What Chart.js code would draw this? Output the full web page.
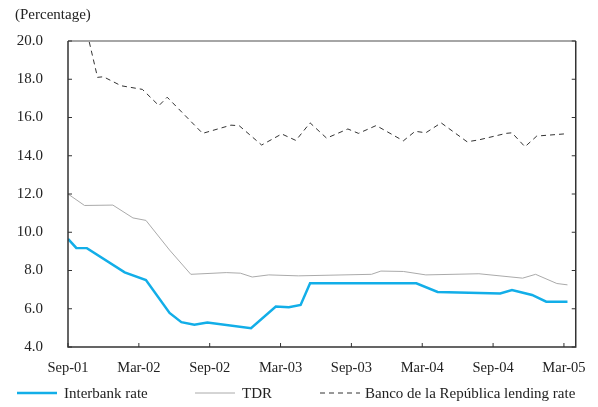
<!DOCTYPE html>
<html>
<head>
<meta charset="utf-8">
<script src="https://cdn.jsdelivr.net/npm/chart.js@4"></script>
<style>
  html, body { margin: 0; padding: 0; background: #fff; }
</style>
</head>
<body>
<canvas id="rates" width="598" height="407"></canvas>
<script>
// months since Sep-01, value in %
const interbankX = [0, 0.7, 1.6, 4.8, 6.6, 8.6, 9.6, 10.7, 11.8, 15.5, 17.6, 18.7, 19.7, 20.5, 29.5, 31.3, 36.6, 37.6, 39.3, 40.5, 42.3];
const interbankY = [9.65, 9.18, 9.17, 7.9, 7.5, 5.78, 5.3, 5.17, 5.28, 4.98, 6.12, 6.08, 6.2, 7.33, 7.33, 6.88, 6.8, 6.98, 6.72, 6.37, 6.37];

const tdrX = [0, 1.4, 3.8, 5.5, 6.6, 8.6, 10.4, 13.4, 14.6, 15.6, 17, 19.5, 25.7, 26.5, 28.4, 30.3, 34.8, 38.5, 39.6, 41.4, 42.3];
const tdrY = [12.0, 11.4, 11.42, 10.75, 10.62, 9.07, 7.8, 7.89, 7.86, 7.66, 7.77, 7.72, 7.8, 7.97, 7.95, 7.77, 7.83, 7.6, 7.8, 7.32, 7.25];

const lendingX = [1.8, 2.5, 3, 4.5, 6.3, 7.7, 8.4, 11.4, 13.8, 14.5, 16.4, 18.1, 19.3, 20.5, 21.9, 23.7, 24.6, 26.1, 28.4, 29.4, 30.3, 31.6, 33.8, 34.8, 37.1, 37.6, 38.7, 39.7, 42];
const lendingY = [19.95, 18.1, 18.13, 17.66, 17.47, 16.62, 17.06, 15.17, 15.6, 15.57, 14.56, 15.14, 14.8, 15.72, 14.92, 15.4, 15.17, 15.58, 14.78, 15.28, 15.2, 15.72, 14.73, 14.83, 15.17, 15.2, 14.47, 15.03, 15.14];

const xTickVals = [0, 6, 12, 18, 24, 30, 36, 42];
const xTickLabels = ['Sep-01', 'Mar-02', 'Sep-02', 'Mar-03', 'Sep-03', 'Mar-04', 'Sep-04', 'Mar-05'];
const yTickVals = [4, 6, 8, 10, 12, 14, 16, 18, 20];

const seriesNames = ['Interbank rate', 'TDR', 'Banco de la República lending rate'];

const pts = (xs, ys) => xs.map((x, i) => ({ x: x, y: ys[i] }));
const FONT = '"Liberation Serif", "Times New Roman", serif';

// frame, inward ticks, unit label and legend
const decor = {
  id: 'decor',
  afterDatasetsDraw(chart) {
    const ctx = chart.ctx;
    const a = chart.chartArea;
    const xs = chart.scales.x, ys = chart.scales.y;
    ctx.save();
    ctx.lineWidth = 1.5;
    ctx.strokeStyle = '#888';
    ctx.beginPath();
    ctx.moveTo(a.left, a.top); ctx.lineTo(a.right, a.top);
    ctx.stroke();
    ctx.strokeStyle = '#333';
    ctx.beginPath();
    ctx.moveTo(a.left, a.top); ctx.lineTo(a.left, a.bottom);
    ctx.lineTo(a.right, a.bottom); ctx.lineTo(a.right, a.top);
    ctx.stroke();
    ctx.lineWidth = 1;
    ctx.beginPath();
    yTickVals.forEach(v => {
      const py = ys.getPixelForValue(v);
      ctx.moveTo(a.left, py); ctx.lineTo(a.left + 4, py);
      ctx.moveTo(a.right, py); ctx.lineTo(a.right - 4, py);
    });
    xTickVals.forEach(v => {
      const px = xs.getPixelForValue(v);
      ctx.moveTo(px, a.bottom); ctx.lineTo(px, a.bottom - 4);
    });
    ctx.stroke();

    ctx.fillStyle = '#222';
    ctx.font = '15px ' + FONT;
    ctx.textBaseline = 'middle';
    ctx.textAlign = 'left';
    ctx.fillText('(Percentage)', 15, 15);

    // legend
    const ly = 393;
    const items = [
      { x: 17, tx: 64, color: '#12aee8', width: 2.5, dash: [] },
      { x: 195, tx: 242, color: '#aaa', width: 1, dash: [] },
      { x: 320, tx: 365, color: '#333', width: 1, dash: [5, 4] }
    ];
    items.forEach((it, i) => {
      ctx.strokeStyle = it.color;
      ctx.lineWidth = it.width;
      ctx.setLineDash(it.dash);
      ctx.beginPath();
      ctx.moveTo(it.x, ly); ctx.lineTo(it.x + 40, ly);
      ctx.stroke();
      ctx.setLineDash([]);
      ctx.fillText(seriesNames[i], it.tx, ly + 1);
    });
    ctx.restore();
  }
};

new Chart(document.getElementById('rates'), {
  type: 'line',
  data: {
    datasets: [
      { label: seriesNames[0], data: pts(interbankX, interbankY), borderColor: '#12aee8', borderWidth: 2.5 },
      { label: seriesNames[1], data: pts(tdrX, tdrY), borderColor: '#aaa', borderWidth: 1 },
      { label: seriesNames[2], data: pts(lendingX, lendingY), borderColor: '#333', borderWidth: 1, borderDash: [5, 4] }
    ]
  },
  options: {
    responsive: false,
    animation: false,
    devicePixelRatio: 1,
    elements: { point: { radius: 0 }, line: { tension: 0 } },
    layout: { padding: { top: 41, right: 20, left: 0, bottom: 0 } },
    plugins: { legend: { display: false }, tooltip: { enabled: false } },
    scales: {
      x: {
        type: 'linear',
        min: 0,
        max: 43,
        afterBuildTicks: s => { s.ticks = xTickVals.map(v => ({ value: v })); },
        afterFit: s => { s.height = 60; },
        grid: { display: false, drawTicks: false },
        border: { display: false },
        ticks: {
          padding: 12,
          color: '#222',
          font: { family: FONT, size: 14.5 },
          maxRotation: 0,
          callback: v => xTickLabels[xTickVals.indexOf(v)]
        }
      },
      y: {
        min: 4,
        max: 20,
        afterBuildTicks: s => { s.ticks = yTickVals.map(v => ({ value: v })); },
        afterFit: s => { s.width = 68; },
        grid: { display: false, drawTicks: false },
        border: { display: false },
        ticks: {
          padding: 25,
          color: '#222',
          font: { family: FONT, size: 15 },
          callback: v => v.toFixed(1)
        }
      }
    }
  },
  plugins: [decor]
});
</script>
</body>
</html>
